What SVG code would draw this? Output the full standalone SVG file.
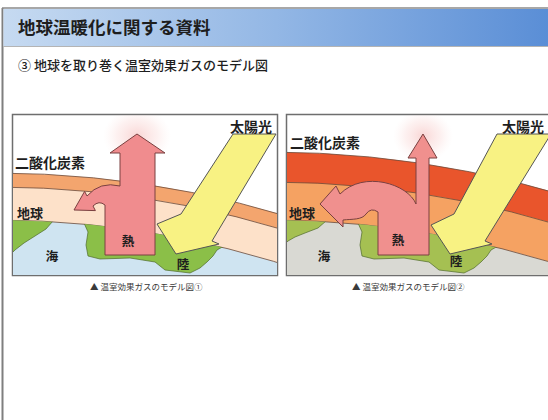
<svg xmlns="http://www.w3.org/2000/svg" width="548" height="420" viewBox="0 0 548 420">
  <defs>
    <linearGradient id="hdr" x1="0" y1="0" x2="1" y2="0">
      <stop offset="0" stop-color="#c6daf1"/>
      <stop offset="0.5" stop-color="#93b7e5"/>
      <stop offset="1" stop-color="#5a8ed6"/>
    </linearGradient>
    <radialGradient id="glow">
      <stop offset="0" stop-color="#f4b4b2" stop-opacity="0.55"/>
      <stop offset="0.6" stop-color="#f8d0ce" stop-opacity="0.3"/>
      <stop offset="1" stop-color="#fbe4e2" stop-opacity="0"/>
    </radialGradient>
    <clipPath id="clipL"><rect x="13" y="115" width="264" height="160"/></clipPath>
    <clipPath id="clipR"><rect x="287" y="115" width="262" height="160"/></clipPath>
    <clipPath id="earthL"><circle cx="-5" cy="1179" r="959"/></clipPath>
    <clipPath id="earthR"><circle cx="269" cy="1179" r="959"/></clipPath>
  </defs>
  <style>
    text { font-family: "Noto Sans CJK JP", "Noto Sans", sans-serif; fill: #1e1e1e; }
    .title { font-size: 17.5px; font-weight: bold; }
    .sub { font-size: 13px; font-weight: 500; }
    .lbl { font-size: 14px; font-weight: bold; }
    .sm { font-size: 12.5px; font-weight: bold; text-anchor: middle; }
    .cap { font-size: 8.5px; fill: #3a3a3a; }
    .panel { fill: #ffffff; stroke: #6e6e6e; stroke-width: 1.5; }
    .layer { stroke: #6b4a3a; stroke-width: 0.8; }
    .land { stroke: #4f6a2a; stroke-width: 0.7; }
    .heat { stroke: #7a4040; stroke-width: 1; stroke-linejoin: round; }
    .sun { fill: #f8f283; stroke: #555555; stroke-width: 1; stroke-linejoin: round; }
  </style>

  <!-- page frame and header -->
  <g id="header">
    <line x1="2.5" y1="8" x2="2.5" y2="420" stroke="#7f7f7f" stroke-width="2"/>
    <line x1="2" y1="8" x2="548" y2="8" stroke="#8a8a8a" stroke-width="1.5"/>
    <rect x="3.5" y="9" width="545" height="37" fill="url(#hdr)"/>
    <line x1="3.5" y1="46.5" x2="548" y2="46.5" stroke="#b4b4b4" stroke-width="1"/>
    <text class="title" x="18" y="34">地球温暖化に関する資料</text>
    <text class="sub" x="18" y="70">③ 地球を取り巻く温室効果ガスのモデル図</text>
  </g>

  <!-- model 1 -->
  <g id="model1">
    <rect class="panel" x="12.5" y="114.5" width="265" height="161"/>
    <g clip-path="url(#clipL)">
      <circle class="layer" cx="-5" cy="1179" r="1006" fill="#f3a56e"/>
      <circle class="layer" cx="-5" cy="1179" r="992" fill="#fde1c9"/>
      <circle class="layer" cx="-5" cy="1179" r="959" fill="#cfe4f1"/>
      <g clip-path="url(#earthL)" fill="#8bbf48">
        <path class="land" d="M 12 210 L 55 212 L 53 221 L 46 229 L 35 236 L 24 243 L 15 250 L 12 253 Z"/>
        <path class="land" d="M 84 212 L 84 223 L 88 232 L 86 245 L 88 256 L 100 259 L 130 258 L 155 262 L 165 270 L 190 273 L 200 268 L 207 262 L 213 256 L 217 250 L 224 246 L 226 230 Z"/>
      </g>
      <ellipse cx="137" cy="136" rx="34" ry="28" fill="url(#glow)"/>
    </g>
    <path id="heat1" class="heat" fill="#f08c8e" d="M 105 255 L 155 255 L 155 153 L 165 153 L 137 134 L 110 153 L 120 153 L 120 186 Q 100 181 87 196 L 84.6 191.4 L 74 210 L 95.4 210.6 L 93 206 Q 99 200 105 205 Z"/>
    <path id="sun1" class="sun" d="M 233 134 L 276 134 L 212 241 L 219 244 L 176 254 L 157 224 L 181 214 Z"/>
    <text class="lbl" x="230" y="132">太陽光</text>
    <text class="lbl" x="15" y="168">二酸化炭素</text>
    <text class="lbl" x="17" y="218" style="font-size:13px">地球</text>
    <text class="sm" x="52" y="261">海</text>
    <text class="sm" x="128" y="246">熱</text>
    <text class="sm" x="183" y="269">陸</text>
    <text class="cap" x="90" y="290">▲ 温室効果ガスのモデル図①</text>
  </g>

  <!-- model 2 -->
  <g id="model2">
    <rect class="panel" x="286.5" y="114.5" width="270" height="161"/>
    <g clip-path="url(#clipR)">
      <circle class="layer" cx="269" cy="1179" r="1027" fill="#e9552c"/>
      <circle class="layer" cx="269" cy="1179" r="997" fill="#f5a262"/>
      <circle class="layer" cx="269" cy="1179" r="959" fill="#d9d9d3"/>
      <g clip-path="url(#earthR)" fill="#a5c052">
        <path class="land" d="M 286 210 L 328 212 L 326 221 L 318 228 L 305 233 L 295 237 L 288 241 L 286 243 Z"/>
        <path class="land" d="M 358 212 L 358 223 L 362 232 L 360 245 L 362 256 L 374 259 L 404 258 L 429 262 L 439 270 L 464 273 L 474 268 L 481 262 L 487 256 L 491 250 L 498 246 L 500 230 Z"/>
      </g>
      <ellipse cx="423" cy="136" rx="30" ry="26" fill="url(#glow)"/>
    </g>
    <path id="heat2" class="heat" fill="#f0908e" d="M 378 255 L 429 255 L 429 158 L 437 158 L 423 134 L 408 158 L 416 158 L 416 204 C 408 184 364 170 340 194 L 336 186 L 320 204 L 343 227 L 343 220 C 352 219 362 220 366 214 Q 371 207 378 212 Z"/>
    <path id="sun2" class="sun" d="M 497 134 L 551 134 L 485 241 L 492 244 L 450 254 L 431 225 L 454 214 Z"/>
    <text class="lbl" x="502" y="132">太陽光</text>
    <text class="lbl" x="290" y="148">二酸化炭素</text>
    <text class="lbl" x="289" y="218" style="font-size:13px">地球</text>
    <text class="sm" x="324" y="261">海</text>
    <text class="sm" x="398" y="245">熱</text>
    <text class="sm" x="456" y="266">陸</text>
    <text class="cap" x="352" y="290">▲ 温室効果ガスのモデル図②</text>
  </g>
</svg>
